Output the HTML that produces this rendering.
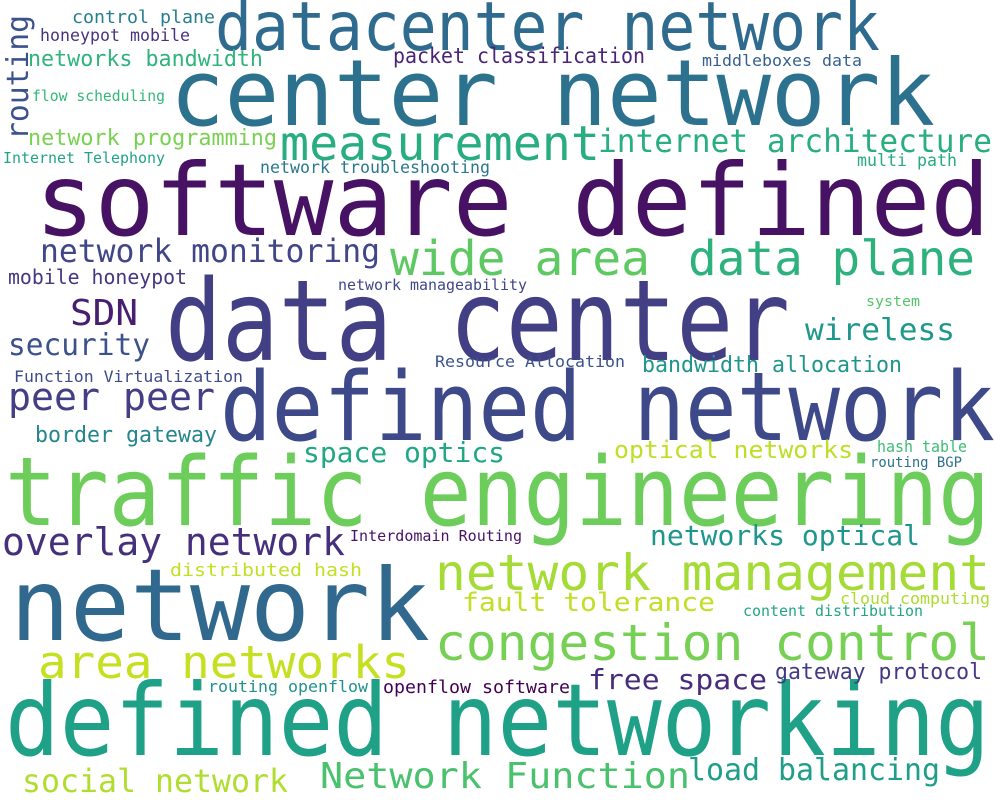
<!DOCTYPE html>
<html>
<head>
<meta charset="utf-8">
<style>
  html,body{margin:0;padding:0;background:#fff;}
  svg{display:block;}
  text{font-family:"DejaVu Sans Mono","Liberation Mono",monospace;}
</style>
</head>
<body>
<svg id="cloud" width="1000" height="800" viewBox="0 0 1000 800" xmlns="http://www.w3.org/2000/svg">
  <rect x="0" y="0" width="1000" height="800" fill="#ffffff"/>
</svg>
<script>
const words = ["datacenter network","center network","software defined","data center","defined network","traffic engineering","network","defined networking","measurement","wide area","data plane","network management","congestion control","area networks","Network Function","social network","load balancing","internet architecture","network monitoring","SDN","security","peer peer","wireless","bandwidth allocation","overlay network","networks optical","space optics","optical networks","border gateway","Function Virtualization","Resource Allocation","network manageability","mobile honeypot","control plane","honeypot mobile","networks bandwidth","flow scheduling","network programming","Internet Telephony","packet classification","middleboxes data","network troubleshooting","multi path","system","hash table","routing BGP","Interdomain Routing","distributed hash","fault tolerance","cloud computing","content distribution","free space","gateway protocol","routing openflow","openflow software","routing"];
const fontSizes = [68,92,100,112,95,95,100,100,48,48,48,50,50,45,36,32,30,32,32,36,30,38,30,22,38,28,28,24,22,16,16,15,20,18,17,22,15,22,15,21,16,17,17,14,16,14,15,18,26,16,15,28,22,16,18,30];
const colors = ["#2f6b8e","#2c728e","#471164","#423f85","#3e4989","#6ccd5a","#31688e","#1fa187","#27ad81","#5ec962","#2db27d","#a5db36","#75d054","#c5e021","#4ac16d","#b0dd2f","#1f9e89","#29af7f","#404688","#481f70","#3b528b","#433e85","#1f988b","#1f968b","#46307e","#1f968b","#22a785","#bddf26","#25858e","#3e4c8a","#3b528b","#3f4788","#453882","#277f8e","#46337f","#2fb47c","#35b779","#7ad151","#20a386","#482576","#355f8d","#2a788e","#25ab82","#54c568","#3dbc74","#2c718e","#471365","#c2df23","#c0df25","#addc30","#21a685","#472c7a","#443983","#21918c","#440154","#3b528b"];
// layout: [left, baseline, width, rotated]
const layout = [[215,50,665,0],[170,125,765,0],[35,235,955,0],[165,360,625,0],[220,440,775,0],[5,525,985,0],[10,640,420,0],[5,755,985,0],[280,160,320,0],[390,275,260,0],[688,275,287,0],[435,590,555,0],[435,660,555,0],[38,678,372,0],[320,788,370,0],[22,792,266,0],[688,780,252,0],[598,152,394,0],[40,262,340,0],[70,325,68,0],[8,355,142,0],[8,410,207,0],[805,340,150,0],[642,372,260,0],[2,555,343,0],[650,545,270,0],[303,462,202,0],[614,458,239,0],[35,442,182,0],[14,382,229,0],[435,367,190,0],[338,290,189,0],[8,284,179,0],[72,23,143,0],[40,41,150,0],[28,66,235,0],[32,101,133,0],[28,145,249,0],[3,163,162,0],[393,63,252,0],[702,66,160,0],[260,173,230,0],[857,166,100,0],[866,306,54,0],[877,452,90,0],[870,467,92,0],[350,541,172,0],[170,576,192,0],[462,611,253,0],[840,604,150,0],[743,616,180,0],[588,689,179,0],[775,679,207,0],[208,692,160,0],[383,693,187,0],[28,140,125,1]];
const svg = document.getElementById('cloud');
const NS = 'http://www.w3.org/2000/svg';
for (let i = 0; i < words.length; i++) {
  const L = layout[i];
  const t = document.createElementNS(NS, 'text');
  
  
  t.setAttribute('font-size', fontSizes[i]);
  t.setAttribute('fill', colors[i]);
  t.setAttribute('textLength', L[2]);
  t.setAttribute('lengthAdjust', 'spacingAndGlyphs');
  if (L[3]) {
    t.setAttribute('x', 0);
    t.setAttribute('y', 0);
    t.setAttribute('transform', 'translate(' + L[0] + ',' + L[1] + ') rotate(-90)');
  } else {
    t.setAttribute('x', L[0]);
    t.setAttribute('y', L[1]);
  }
  t.textContent = words[i];
  svg.appendChild(t);
}
</script>
</body>
</html>
